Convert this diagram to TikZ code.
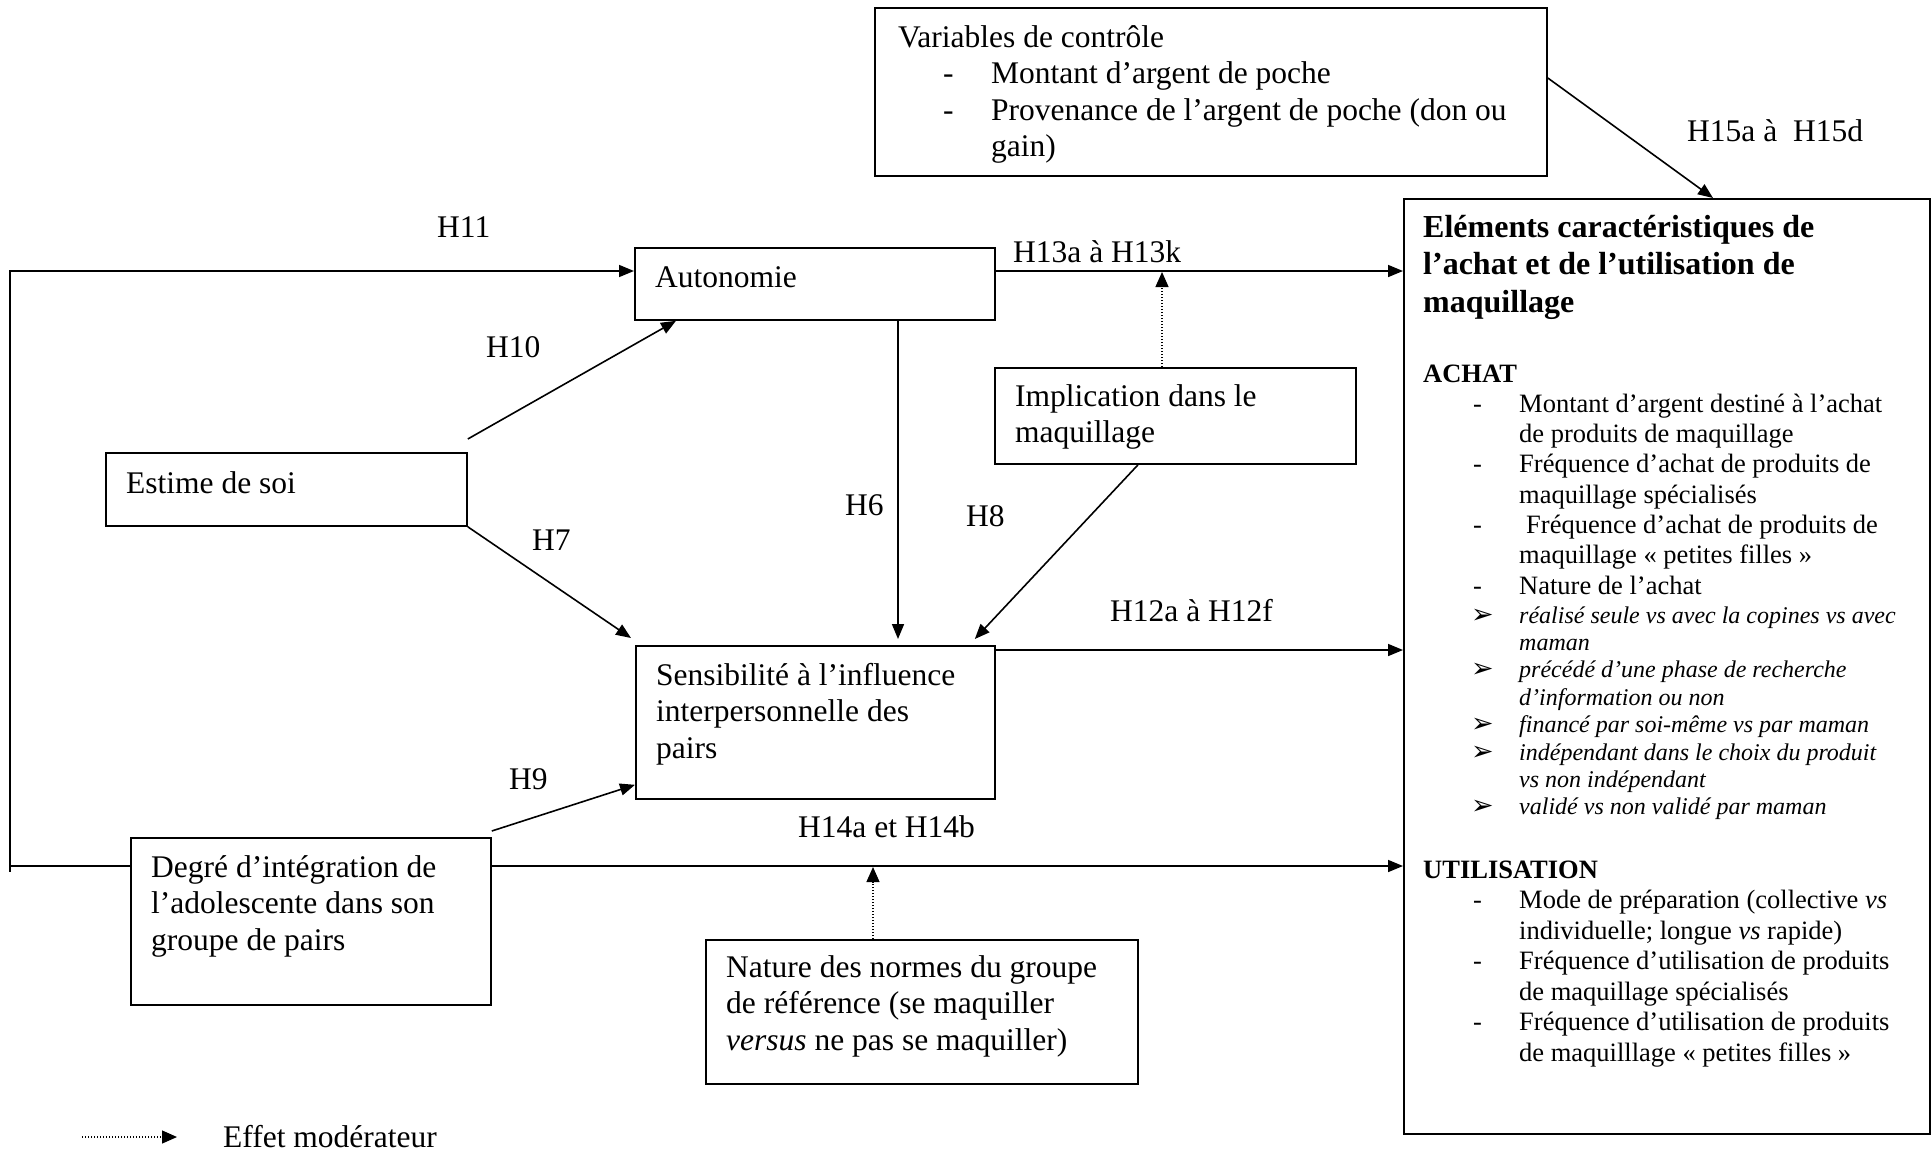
\documentclass[tikz,border=0pt]{standalone}
\usepackage{fontspec}
\setmainfont{Liberation Serif}
\newfontfamily\dejavu{DejaVu Sans}
\usetikzlibrary{arrows.meta,calc}

\newcommand\msz{\fontsize{31.5}{36.5}\selectfont}
\newcommand\mbItem[1]{\makebox[96pt][l]{\hspace{50pt}-}#1}
\newcommand\mbCont{\hspace*{96pt}}
\newcommand\mbArr[1]{\makebox[96pt][l]{\hspace{48pt}{\dejavu\upshape\fontsize{27}{27}\selectfont ➢}}#1}
\newcommand\ctItem[1]{\makebox[93pt][l]{\hspace{45pt}-}#1}

\begin{document}
\begin{tikzpicture}[x=1pt,y=-1pt,
 box/.style={draw, line width=1.8pt, rectangle, inner sep=0pt, anchor=north west},
 lbl/.style={anchor=base west, inner sep=0pt, font=\msz},
 arr/.style={line width=1.6pt, -{Triangle[length=15pt,width=12pt]}},
 modarr/.style={line width=1.2pt, dash pattern=on 1.2pt off 1.8pt, -{Triangle[length=15pt,width=13pt]}},
 plainln/.style={line width=1.6pt}]

\useasboundingbox (0,0) rectangle (1932,1151);

% boxes
\node[box, minimum width=672pt, minimum height=168pt] (ctrl) at (874,7) {};
\node[box, minimum width=526pt, minimum height=935pt] (main) at (1403,198) {};
\node[box, minimum width=360pt, minimum height=72pt] (auto) at (634,247) {};
\node[box, minimum width=361pt, minimum height=96pt] (impl) at (994,367) {};
\node[box, minimum width=361pt, minimum height=73pt] (estime) at (105,452) {};
\node[box, minimum width=359pt, minimum height=153pt] (sens) at (635,645) {};
\node[box, minimum width=360pt, minimum height=167pt] (degre) at (130,837) {};
\node[box, minimum width=432pt, minimum height=144pt] (nature) at (705,939) {};

% box texts
\node[lbl] (ctrlT) at (898,47) {\parbox[t]{640pt}{\msz Variables de contrôle\\
\ctItem{Montant d’argent de poche}\\
\ctItem{Provenance de l’argent de poche (don ou}\\
\hspace*{93pt}gain)}};
\node[lbl] (autoT) at (655,287) {Autonomie};
\node[lbl] (estT) at (126,493) {Estime de soi};
\node[lbl] (implT) at (1015,406) {\parbox[t]{330pt}{\msz Implication dans le\\maquillage}};
\node[lbl] (sensT) at (656,685) {\parbox[t]{330pt}{\msz Sensibilité à l’influence\\interpersonnelle des\\pairs}};
\node[lbl] (degT) at (151,877) {\parbox[t]{330pt}{\msz Degré d’intégration de\\l’adolescente dans son\\groupe de pairs}};
\node[lbl] (natT) at (726,977) {\parbox[t]{400pt}{\msz Nature des normes du groupe\\de référence (se maquiller\\\textit{versus} ne pas se maquiller)}};

\node[lbl] (mainT) at (1423,237) {\parbox[t]{500pt}{%
{\fontsize{32}{37.5}\selectfont\bfseries Eléments caractéristiques de\\l’achat et de l’utilisation de\\maquillage\par}
\fontsize{26.5}{30.3}\selectfont
\vspace{39.7pt}
\textbf{ACHAT}\par
\mbItem{Montant d’argent destiné à l’achat}\\
\mbCont de produits de maquillage\\
\mbItem{Fréquence d’achat de produits de}\\
\mbCont maquillage spécialisés\\
\mbItem{\hspace*{7pt}Fréquence d’achat de produits de}\\
\mbCont maquillage « petites filles »\\
\mbItem{Nature de l’achat}\par
{\fontsize{24}{27.4}\selectfont\itshape
\vspace{1.6pt}
\mbArr{réalisé seule vs avec la copines vs avec}\\
\mbCont maman\\
\mbArr{précédé d’une phase de recherche}\\
\mbCont d’information ou non\\
\mbArr{financé par soi-même vs par maman}\\
\mbArr{indépendant dans le choix du produit}\\
\mbCont vs non indépendant\\
\mbArr{validé vs non validé par maman}\par}
\fontsize{26.5}{30.5}\selectfont
\vspace{33pt}
\textbf{UTILISATION}\par
\mbItem{Mode de préparation (collective \textit{vs}}\\
\mbCont individuelle; longue \textit{vs} rapide)\\
\mbItem{Fréquence d’utilisation de produits}\\
\mbCont de maquillage spécialisés\\
\mbItem{Fréquence d’utilisation de produits}\\
\mbCont de maquilllage « petites filles »\par}};

% connectors
\coordinate (fbL) at (10,866);
\coordinate (fbT) at (10,271);
\coordinate (fbB) at (10,872);
\draw[plainln] (fbL) -- (fbB);
\draw[arr] ($(degre.north west)+(0,29)$) -- (fbL) -- (fbT) -- ($(auto.north west)+(0,24)$);

\draw[arr] ($(auto.north east)+(0,24)$) -- ($(main.north west)+(0,73)$);
\coordinate (m13) at (1162,272);
\draw[modarr] (impl.north -| m13) -- (m13);

\draw[arr] ($(estime.north east)+(0,-13)$) -- ($(auto.south west)+(42,0)$);
\draw[arr] (estime.south east) -- ($(sens.north west)+(-4,-7)$);
\draw[arr] ($(auto.south west)+(264,0)$) -- ($(sens.north west)+(263,-6)$);
\draw[arr] ($(impl.south west)+(144,0)$) -- ($(sens.north east)+(-21,-6)$);
\draw[arr] ($(sens.north east)+(0,5)$) -- ($(main.north west)+(0,452)$);
\draw[arr] ($(degre.north east)+(0,-6)$) -- ($(sens.south west)+(0,-15)$);
\draw[arr] ($(degre.north east)+(0,29)$) -- ($(main.north west)+(0,668)$);
\coordinate (m14) at (873,867);
\draw[modarr] (nature.north -| m14) -- (m14);
\draw[arr] ($(ctrl.north east)+(0,71)$) -- ($(main.north west)+(310,0)$);

% labels
\node[lbl] (lH11) at (437,237) {H11};
\node[lbl] (lH10) at (486,357) {H10};
\node[lbl] (lH7) at (532,550) {H7};
\node[lbl] (lH6) at (845,515) {H6};
\node[lbl] (lH8) at (966,526) {H8};
\node[lbl] (lH9) at (509,789) {H9};
\node[lbl] (lH13) at (1013,262) {H13a à H13k};
\node[lbl] (lH12) at (1110,621) {H12a à H12f};
\node[lbl] (lH14) at (798,837) {H14a et H14b};
\node[lbl] (lH15) at (1687,141) {H15a à\ \ H15d};

% legend
\coordinate (lgA) at (82,1137);
\coordinate (lgB) at (177,1137);
\draw[modarr] (lgA) -- (lgB);
\node[lbl] (leg) at (223,1147) {Effet modérateur};
\end{tikzpicture}
\end{document}
